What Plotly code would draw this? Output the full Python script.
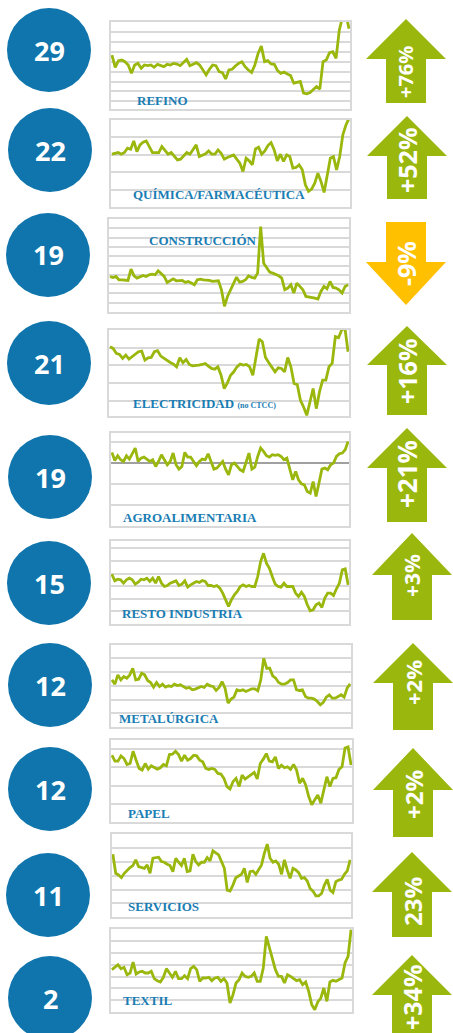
import plotly.graph_objects as go

W, H = 453, 1033

# ---------------- data ----------------
sectors = ["REFINO", "QUÍMICA/FARMACÉUTICA", "CONSTRUCCIÓN", "ELECTRICIDAD",
           "AGROALIMENTARIA", "RESTO INDUSTRIA", "METALÚRGICA", "PAPEL",
           "SERVICIOS", "TEXTIL"]
counts = ["29", "22", "19", "21", "19", "15", "12", "12", "11", "2"]
changes = ["+76%", "+52%", "-9%", "+16%", "+21%", "+3%", "+2%", "+2%", "23%", "+34%"]

refino = [165, 128, 148, 150, 145, 135, 110, 135, 140, 125, 135, 133, 135, 128, 137, 133,
          130, 137, 135, 140, 138, 133, 142, 152, 133, 138, 142, 135, 118, 105, 122, 135,
          133, 115, 112, 93, 120, 122, 132, 140, 145, 130, 120, 112, 135, 170, 192, 145,
          148, 138, 137, 118, 110, 114, 108, 103, 80, 82, 85, 50, 48, 52, 62, 70, 62, 145,
          150, 172, 175, 155, 240, 280, 290, 245]
quimica = [167, 170, 172, 167, 172, 185, 182, 207, 175, 195, 203, 207, 190, 172, 172, 172,
           190, 180, 167, 172, 162, 150, 152, 162, 172, 167, 180, 195, 160, 163, 168, 177,
           167, 167, 180, 170, 152, 157, 160, 165, 152, 140, 115, 155, 147, 135, 183, 188,
           167, 177, 193, 202, 180, 147, 167, 145, 165, 160, 125, 127, 135, 120, 75, 55,
           62, 80, 110, 85, 52, 100, 155, 160, 120, 160, 225, 255, 275]
construccion = [115, 112, 115, 105, 105, 105, 103, 137, 117, 110, 115, 118, 115, 120, 122, 120,
                132, 122, 115, 97, 102, 108, 102, 103, 103, 97, 100, 95, 90, 105, 107, 105,
                105, 103, 100, 100, 102, 75, 25, 55, 75, 90, 113, 98, 100, 105, 117, 112,
                110, 125, 265, 155, 140, 128, 125, 122, 117, 110, 75, 80, 90, 65, 95, 85,
                75, 55, 54, 52, 50, 47, 70, 85, 78, 100, 82, 80, 75, 65, 85, 90]
electricidad = [235, 230, 215, 212, 200, 210, 198, 205, 213, 220, 222, 195, 202, 203, 220, 223,
                207, 200, 193, 188, 183, 175, 202, 187, 197, 182, 178, 178, 180, 182, 185, 177,
                170, 168, 175, 150, 110, 127, 150, 160, 175, 183, 180, 182, 175, 150, 200, 258,
                250, 203, 188, 175, 160, 172, 170, 160, 203, 175, 125, 122, 75, 55, 30, 70,
                110, 50, 100, 135, 135, 175, 185, 265, 262, 285, 292, 220]
agro = [32, 8, 22, 10, 5, 22, 12, 30, 45, 5, 15, 18, 12, 5, 10, -10, 5, 25, 10, -5, 5, 30,
        -5, -18, -10, 32, 18, 18, 5, -8, 5, 12, 10, 28, 5, -18, -15, -5, 5, -18, -35, -5, 0,
        -10, -20, -25, 5, 30, -18, -12, 20, 45, 35, 22, 18, 25, 23, 25, 20, 10, 15, -20, -50,
        -25, -50, -62, -65, -85, -90, -55, -100, -60, -18, -15, -20, -5, 0, 20, 28, 30, 40, 65]
resto = [182, 162, 167, 165, 155, 165, 170, 165, 152, 158, 167, 165, 170, 160, 170, 155,
         175, 155, 145, 148, 155, 158, 162, 148, 152, 162, 143, 150, 155, 160, 157, 163,
         160, 148, 148, 145, 148, 140, 125, 105, 85, 105, 120, 130, 145, 150, 145, 148,
         145, 145, 175, 220, 245, 215, 200, 175, 152, 145, 143, 155, 145, 145, 145, 125,
         115, 128, 115, 90, 72, 75, 90, 95, 82, 110, 125, 125, 118, 138, 155, 195, 198, 150]
metal = [180, 167, 195, 180, 190, 185, 195, 215, 180, 182, 200, 195, 178, 172, 158, 172,
         160, 167, 158, 162, 160, 167, 163, 165, 160, 155, 157, 150, 152, 155, 160, 157,
         167, 162, 160, 148, 157, 175, 155, 110, 122, 128, 150, 147, 150, 145, 150, 153,
         153, 147, 180, 245, 215, 215, 192, 185, 172, 167, 167, 172, 180, 180, 150, 148,
         150, 130, 125, 125, 122, 115, 105, 112, 128, 135, 125, 125, 130, 135, 128, 155, 168]
papel = [240, 222, 222, 238, 230, 212, 215, 252, 225, 200, 195, 215, 198, 208, 203, 198,
         202, 212, 208, 242, 243, 252, 242, 222, 240, 225, 230, 240, 238, 225, 220, 200,
         197, 200, 197, 185, 183, 170, 145, 138, 160, 170, 145, 180, 168, 175, 182, 188,
         168, 215, 228, 245, 222, 220, 235, 200, 210, 202, 205, 197, 212, 195, 155, 170,
         150, 115, 90, 105, 120, 95, 140, 175, 145, 170, 172, 197, 205, 262, 265, 210]
servicios = [212, 155, 150, 142, 155, 165, 172, 178, 195, 175, 172, 170, 180, 155, 200, 202,
             203, 190, 188, 182, 178, 160, 200, 188, 178, 200, 160, 162, 212, 190, 180, 188,
             188, 202, 192, 222, 215, 210, 190, 170, 105, 102, 120, 142, 147, 152, 170, 128,
             160, 162, 152, 165, 180, 215, 242, 200, 188, 192, 182, 152, 195, 165, 140, 170,
             165, 157, 140, 142, 132, 110, 102, 88, 88, 95, 120, 137, 105, 98, 130, 135, 137,
             152, 162, 195]
textil = [165, 172, 180, 168, 172, 150, 155, 188, 152, 158, 160, 155, 155, 160, 138, 132,
          128, 142, 168, 155, 142, 160, 138, 138, 147, 138, 168, 175, 165, 130, 140, 140,
          142, 132, 140, 142, 130, 138, 125, 65, 90, 125, 135, 155, 145, 142, 145, 155,
          130, 130, 170, 265, 230, 195, 165, 145, 145, 125, 150, 145, 137, 132, 135, 120,
          128, 100, 60, 45, 68, 80, 110, 70, 128, 133, 130, 135, 140, 185, 205, 285]

series = [refino, quimica, construccion, electricidad, agro, resto, metal, papel,
          servicios, textil]

# ---------------- layout geometry (pixels) ----------------
# panel boxes: left, right, top, bottom
boxes = [(111, 350, 22, 109), (111, 350, 120, 207), (109, 349, 219, 312),
         (109, 349, 330, 416), (111, 349, 433, 526), (111, 349, 541, 624),
         (111, 351, 645, 727), (111, 352, 740, 822), (112, 351, 834, 917),
         (111, 352, 929, 1012)]
yranges = [(2, 265), (8, 270), (8, 288), (28, 285), (-188, 90), (32, 282),
           (38, 285), (38, 286), (25, 272), (38, 287)]
grids = [(25, 30), (8, 52.5), (8, 28), (18.5, 53.5), (0, 62), (32, 38),
         (38, 41.3), (38, 55), (25, 40.8), (38, 35.5)]
labels_pos = [(135, 100), (131, 194), (147, 241), (131, 404), (121, 517),
              (120, 613), (117, 718), (126, 813), (126, 906), (121, 1000)]
circles = [(49, 50), (50, 150), (48, 255), (49, 363), (50, 477), (49, 583),
           (50, 685), (50, 789), (48, 895), (50, 998)]
# arrows: cx, tip, head base, shaft end, text y, font size
arrows = [(406, 19, 59, 103, 72, 20), (407, 116, 156, 199, 161, 25),
          (406, 305, 262, 222, 264, 25), (407, 326, 365, 415, 372, 25),
          (407, 428, 468, 522, 474, 26), (412, 533, 575, 620, 576, 21),
          (413, 643, 683, 730, 683, 22), (413, 748, 790, 837, 795, 24),
          (412, 852, 892, 937, 902, 24), (412, 955, 995, 1040, 998, 25)]

GREEN = "#9AB70E"
ORANGE = "#FFC000"
BLUE_C = "#0F75AC"
BLUE_T = "#1A7DB3"
GRID = "#D9D9D9"


def px(x):
    return x / W


def py(y):
    return 1 - y / H


fig = go.Figure()
layout = dict(width=W, height=H, margin=dict(l=0, r=0, t=0, b=0),
              paper_bgcolor="white", plot_bgcolor="white", showlegend=False)
annotations = []
shapes = []

for i, vals in enumerate(series):
    k = "" if i == 0 else str(i + 1)
    l, r, t, b = boxes[i]
    layout["xaxis" + k] = dict(domain=[px(l), px(r)], anchor="y" + k,
                               range=[-0.3, len(vals) - 0.7], showgrid=False,
                               zeroline=False, showticklabels=False, ticks="",
                               showline=True, mirror=True, linecolor=GRID,
                               linewidth=1.5, fixedrange=True)
    t0, dt = grids[i]
    layout["yaxis" + k] = dict(domain=[py(b), py(t)], anchor="x" + k,
                               range=list(yranges[i]), showgrid=True,
                               gridcolor=GRID, gridwidth=1.5, tickmode="linear",
                               tick0=t0, dtick=dt, showticklabels=False, ticks="",
                               zeroline=(i == 4), zerolinecolor="#A0A0A0",
                               zerolinewidth=2, showline=True, mirror=True,
                               linecolor=GRID, linewidth=1.5, fixedrange=True)
    fig.add_trace(go.Scatter(x=list(range(len(vals))), y=vals, mode="lines",
                             line=dict(color=GREEN, width=2.8),
                             xaxis="x" + k, yaxis="y" + k, hoverinfo="skip"))

    # sector label
    lx, ly = labels_pos[i]
    txt = sectors[i]
    if txt == "ELECTRICIDAD":
        txt = "ELECTRICIDAD <span style='font-size:8px'>(no CTCC)</span>"
    annotations.append(dict(x=px(lx), y=py(ly), xref="paper", yref="paper",
                            text=txt, showarrow=False, xanchor="left",
                            yanchor="middle",
                            font=dict(family="Liberation Serif", size=13,
                                      color=BLUE_T, weight="bold")))

    # circle with count
    cx, cy = circles[i]
    rr = 42
    shapes.append(dict(type="circle", xref="paper", yref="paper",
                       x0=px(cx - rr), x1=px(cx + rr), y0=py(cy + rr), y1=py(cy - rr),
                       fillcolor=BLUE_C, line=dict(width=0), layer="above"))
    annotations.append(dict(x=px(cx), y=py(cy), xref="paper", yref="paper",
                            text="<b>%s</b>" % counts[i], showarrow=False,
                            xanchor="center", yanchor="middle",
                            font=dict(family="Open Sans", size=27, color="white")))

    # arrow
    ax, tip, base, end, ty, fs = arrows[i]
    hw, sw = 40, 20
    pts = [(ax, tip), (ax + hw, base), (ax + sw, base), (ax + sw, end),
           (ax - sw, end), (ax - sw, base), (ax - hw, base)]
    path = "M " + " L ".join("%.5f,%.5f" % (px(x), py(y)) for x, y in pts) + " Z"
    col = ORANGE if changes[i].startswith("-") else GREEN
    shapes.append(dict(type="path", xref="paper", yref="paper", path=path,
                       fillcolor=col, line=dict(width=0), layer="above"))
    annotations.append(dict(x=px(ax), y=py(ty), xref="paper", yref="paper",
                            text="<b>%s</b>" % changes[i], showarrow=False,
                            textangle=-90, xanchor="center", yanchor="middle",
                            font=dict(family="Open Sans", size=fs, color="white")))

layout["annotations"] = annotations
layout["shapes"] = shapes
fig.update_layout(**layout)
fig.write_html("out.html", config={"displayModeBar": False},
               post_script="document.body.style.margin='0';"
                           "document.body.style.overflow='hidden';")
